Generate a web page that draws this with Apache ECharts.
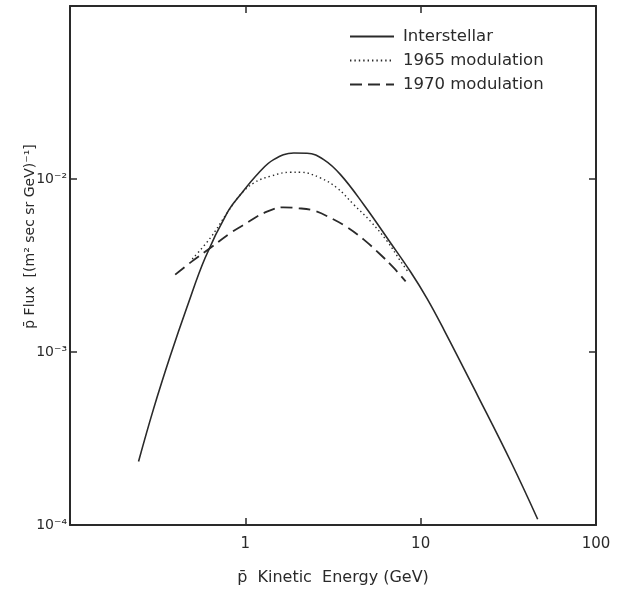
<!DOCTYPE html>
<html>
<head>
<meta charset="utf-8">
<title>Antiproton flux</title>
<script src="https://cdn.jsdelivr.net/npm/echarts@6/dist/echarts.min.js"></script>
<style>
  html, body { margin: 0; padding: 0; background: #fff; }
  #chart { width: 619px; height: 591px; }
</style>
</head>
<body>
<div id="chart"></div>
<script>
// Values (GeV, flux in (m^2 sec sr GeV)^-1)
const interstellarE = [0.246, 0.299, 0.373, 0.465, 0.591, 0.786, 0.936, 1.19, 1.45, 1.89, 2.25, 2.80, 3.49, 4.74, 6.74, 8.77, 10.9, 13.6, 21.1, 32.7, 46.5];
const interstellarFlux = [2.33e-4, 4.66e-4, 9.47e-4, 1.82e-3, 3.52e-3, 6.35e-3, 8.1e-3, 1.084e-2, 1.294e-2, 1.413e-2, 1.41e-2, 1.294e-2, 1.06e-2, 7.1e-3, 4.27e-3, 2.90e-3, 2.03e-3, 1.34e-3, 5.62e-4, 2.32e-4, 1.08e-4];

const mod1965E = [0.498, 0.631, 0.786, 0.936, 1.115, 1.39, 1.81, 2.06, 2.68, 3.34, 4.16, 5.18, 6.45, 7.69, 8.57];
const mod1965Flux = [3.45e-3, 4.56e-3, 6.35e-3, 8.1e-3, 9.48e-3, 1.038e-2, 1.094e-2, 1.094e-2, 1.014e-2, 8.87e-3, 7.1e-3, 5.69e-3, 4.36e-3, 3.34e-3, 2.86e-3];

const mod1970E = [0.398, 0.496, 0.631, 0.821, 1.02, 1.27, 1.65, 1.97, 2.46, 3.06, 3.81, 4.74, 5.91, 7.03, 8.21];
const mod1970Flux = [2.80e-3, 3.34e-3, 3.99e-3, 4.87e-3, 5.57e-3, 6.35e-3, 6.86e-3, 6.79e-3, 6.56e-3, 5.96e-3, 5.26e-3, 4.46e-3, 3.65e-3, 3.06e-3, 2.56e-3];

const seriesNames = ["Interstellar", "1965 modulation", "1970 modulation"];
const xTickLabels = { 1: "1", 10: "10", 100: "100" };
const yTickLabels = { "-4": "10\u207B\u2074", "-3": "10\u207B\u00B3", "-2": "10\u207B\u00B2" };

const ink = "#2a2a2a";
const font = "DejaVu Sans";

function pairs(xs, ys) {
  return xs.map((x, i) => [x, ys[i]]);
}

const chart = echarts.init(document.getElementById("chart"));

const frameAxis = {
  axisLine: { show: true, lineStyle: { color: ink, width: 2 } },
  axisTick: { show: true, inside: true, length: 7, lineStyle: { color: ink, width: 1.5 } },
  splitLine: { show: false },
  minorTick: { show: false }
};

const lineBase = {
  type: "line",
  showSymbol: false,
  symbol: "none",
  smooth: 0.4,
  xAxisIndex: 0,
  yAxisIndex: 0
};

chart.setOption({
  backgroundColor: "#fff",
  animation: false,
  textStyle: { fontFamily: font, color: ink },
  grid: { left: 70, right: 23, top: 6, bottom: 64 },
  legend: {
    orient: "vertical",
    left: 344,
    top: 23,
    itemWidth: 44,
    itemHeight: 10,
    itemGap: 7,
    data: seriesNames,
    itemStyle: { color: "transparent", borderColor: "transparent", borderWidth: 0, opacity: 0 },
    textStyle: { fontFamily: font, fontSize: 16.5, color: ink, padding: [0, 0, 0, 4] }
  },
  xAxis: [
    {
      ...frameAxis,
      type: "log",
      logBase: 10,
      min: 0.1,
      max: 100,
      position: "bottom",
      name: "p\u0304  Kinetic  Energy (GeV)",
      nameLocation: "middle",
      nameGap: 45,
      nameMoveOverlap: false,
      nameTextStyle: { fontFamily: font, fontSize: 16, color: ink },
      axisLabel: {
        margin: 12,
        fontSize: 15,
        color: ink,
        formatter: v => xTickLabels[Math.round(v * 1000) / 1000] || ""
      }
    },
    {
      ...frameAxis,
      type: "log",
      logBase: 10,
      min: 0.1,
      max: 100,
      position: "top",
      axisLabel: { show: false }
    }
  ],
  yAxis: [
    {
      ...frameAxis,
      type: "log",
      logBase: 10,
      min: 1e-4,
      max: 1e-1,
      position: "left",
      name: "p\u0304 Flux  [(m\u00B2 sec sr GeV)\u207B\u00B9]",
      nameLocation: "middle",
      nameGap: 33,
      nameMoveOverlap: false,
      nameRotate: 90,
      nameTextStyle: { fontFamily: font, fontSize: 14, color: ink, padding: [0, 0, 0, 58] },
      axisLabel: {
        margin: 3,
        fontSize: 14,
        color: ink,
        formatter: v => yTickLabels[String(Math.round(Math.log10(v)))] || ""
      }
    },
    {
      ...frameAxis,
      type: "log",
      logBase: 10,
      min: 1e-4,
      max: 1e-1,
      position: "right",
      axisLabel: { show: false }
    }
  ],
  series: [
    {
      ...lineBase,
      name: seriesNames[0],
      data: pairs(interstellarE, interstellarFlux),
      lineStyle: { color: ink, width: 1.6, type: "solid" },
      itemStyle: { color: ink }
    },
    {
      ...lineBase,
      name: seriesNames[1],
      data: pairs(mod1965E, mod1965Flux),
      lineStyle: { color: ink, width: 1.4, type: [1.4, 3] },
      itemStyle: { color: ink }
    },
    {
      ...lineBase,
      name: seriesNames[2],
      data: pairs(mod1970E, mod1970Flux),
      lineStyle: { color: ink, width: 1.8, type: [12, 6] },
      itemStyle: { color: ink }
    }
  ]
});
</script>
</body>
</html>
